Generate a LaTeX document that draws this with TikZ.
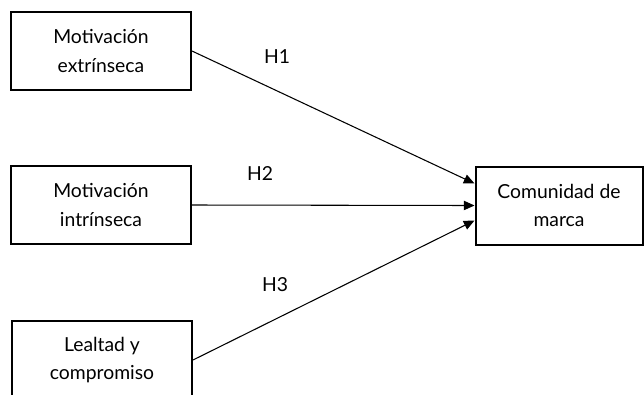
\documentclass[tikz,border=0pt]{standalone}
\usepackage{fontspec}
\setmainfont{Lato}
\usetikzlibrary{arrows.meta,calc}
\tikzstyle{box}=[draw, line width=1.5pt, minimum width=180*0.75pt, minimum height=78*0.75pt, align=center, inner sep=0pt, font=\fontsize{14.5}{21.5}\selectfont]
\tikzstyle{hyp}=[font=\fontsize{14.5}{16}\selectfont]
\tikzstyle{link}=[line width=0.8pt, -{Triangle[length=8pt,width=7pt]}]

\begin{document}
\begin{tikzpicture}[x=0.75pt, y=-0.75pt]
	\useasboundingbox (0,0) rectangle (644,394);
	\node[box] (extr) at (101,51) {Motivación\\extrínseca};
	\node[box] (intr) at (101,205) {Motivación\\intrínseca};
	\node[box] (leal) at (102,360) {Lealtad y\\compromiso};
	\node[box, minimum width=167*0.75pt, minimum height=78*0.75pt] (marca) at (559,205.5) {Comunidad de\\marca};
	\draw[link] (extr.east) -- ($(marca.west)+(0,-22)$);
	\draw[link] (intr.east) -- (marca.west);
	\draw[link] (leal.east) -- ($(marca.west)+(0,15)$);
	\node[hyp] (h1) at (277,57) {H1};
	\node[hyp] (h2) at (260,173) {H2};
	\node[hyp] (h3) at (275,285) {H3};
\end{tikzpicture}
\end{document}
